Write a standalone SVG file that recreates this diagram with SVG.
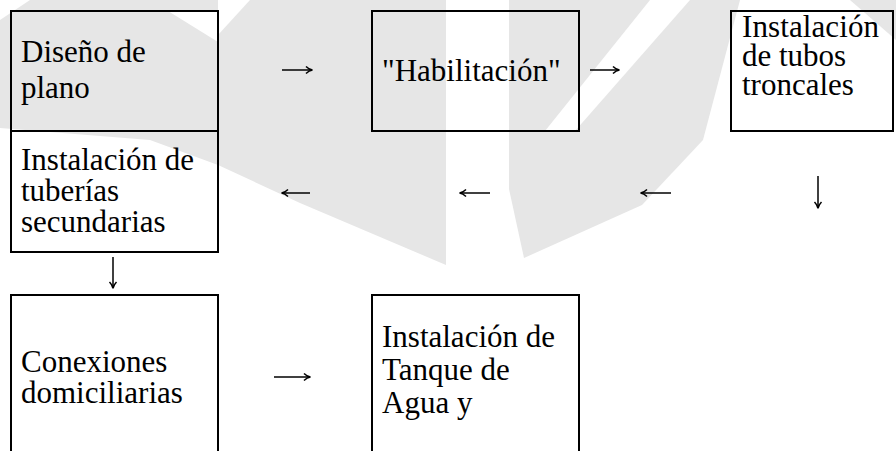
<svg xmlns="http://www.w3.org/2000/svg" width="896" height="451" viewBox="0 0 896 451">
<style>
.wm{fill:#e6e6e6;stroke:none}
.wh{fill:#ffffff;stroke:none}
.box{fill:none;stroke:#000;stroke-width:2}
.t{font-family:"Liberation Serif","Times New Roman",serif;font-size:31px;fill:#000}
.c{fill:none;stroke:#000;stroke-width:1.5;marker-end:url(#ah)}
</style>
<defs>
<marker id="ah" viewBox="0 0 10 10" refX="9" refY="5" markerWidth="10" markerHeight="10" markerUnits="userSpaceOnUse" orient="auto">
<path d="M3,1.5 Q6,4.5 9.5,5 Q6,5.5 3,8.5" fill="none" stroke="#000" stroke-width="1.5"/>
</marker>
</defs>
<rect x="0" y="0" width="896" height="451" fill="#ffffff"/>
<g id="watermark">
<path class="wm" d="M0,20 L30,0 L446,0 L446,265 L300,203 L218,165 L150,140 L0,128 Z"/>
<path class="wh" d="M168,11 L218,11 L218,42 Z"/>
<path class="wh" d="M218,0 L250,0 L218,35 Z"/>
<path class="wm" d="M509,0 L740,0 L703,140 L642,205 L524,258 L509,189 Z"/>
<path class="wh" d="M650,0 L690,0 L575,131 L545,131 Z"/>
<path class="wm" d="M850,0 L896,0 L896,40 Z"/>
</g>
<g id="connectors">
<path class="c" d="M282,70 H312"/>
<path class="c" d="M590,70 H619"/>
<path class="c" d="M310,193 H282"/>
<path class="c" d="M490,193 H460"/>
<path class="c" d="M671,193 H641"/>
<path class="c" d="M818,176 V208"/>
<path class="c" d="M113,257 V288"/>
<path class="c" d="M274,377 H310"/>
</g>
<g id="n1">
<rect class="box" x="11" y="11" width="207" height="120"/>
<text class="t" x="21" y="62">Diseño de</text>
<text class="t" x="21" y="98">plano</text>
</g>
<g id="n2">
<rect class="box" x="372" y="11" width="207" height="120"/>
<text class="t" x="382" y="81">"Habilitación"</text>
</g>
<g id="n3">
<rect class="box" x="731" y="11" width="162" height="120"/>
<text class="t" x="742" y="37" textLength="137">Instalación</text>
<text class="t" x="742" y="66">de tubos</text>
<text class="t" x="742" y="95">troncales</text>
</g>
<g id="n4">
<rect class="box" x="11" y="131" width="207" height="121"/>
<text class="t" x="21" y="170">Instalación de</text>
<text class="t" x="21" y="201">tuberías</text>
<text class="t" x="21" y="232">secundarias</text>
</g>
<g id="n5">
<path class="box" d="M11,452 L11,295 L218,295 L218,452"/>
<text class="t" x="21" y="372">Conexiones</text>
<text class="t" x="21" y="403">domiciliarias</text>
</g>
<g id="n6">
<path class="box" d="M372,452 L372,295 L579,295 L579,452"/>
<text class="t" x="382" y="347">Instalación de</text>
<text class="t" x="382" y="380">Tanque de</text>
<text class="t" x="382" y="413">Agua y</text>
</g>
</svg>
